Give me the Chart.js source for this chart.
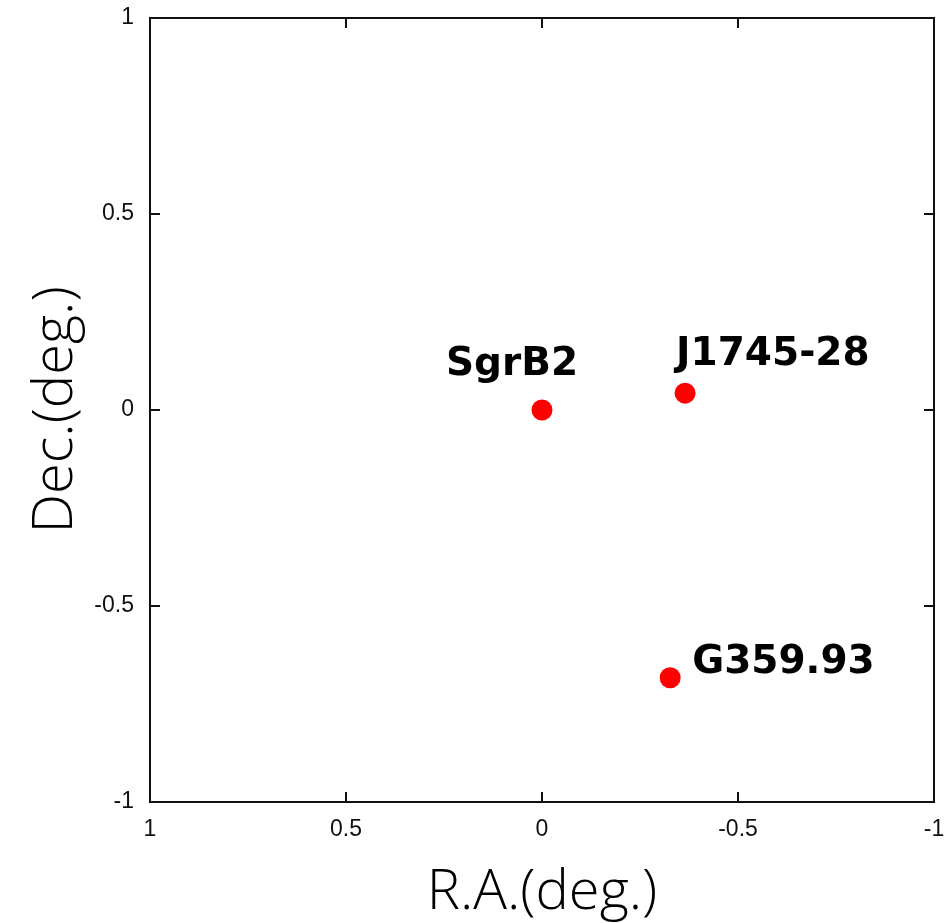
<!DOCTYPE html>
<html>
<head>
<meta charset="utf-8">
<script src="https://cdn.jsdelivr.net/npm/chart.js@4/dist/chart.umd.min.js"></script>
<style>
  body { margin: 0; background: #fff; }
  canvas { display: block; }
</style>
</head>
<body>
<canvas id="radec" width="952" height="923"></canvas>
<script>
// source positions relative to SgrB2, in degrees
const sourceNames = ['SgrB2', 'J1745-28', 'G359.93'];
const raValues = [0, -0.365, -0.327];
const decValues = [0, 0.043, -0.683];
const axisTicks = [-1, -0.5, 0, 0.5, 1];

// where each name sits relative to its dot (px): dx, dy, align
const labelPlacement = [
  { dx: -30, dy: -35, align: 'center' },
  { dx: -9, dy: -28, align: 'left' },
  { dx: 22, dy: -5, align: 'left' }
];

const INK = '#111';

// box around the plot area plus inward ticks on all four sides
const frameTicks = {
  id: 'frameTicks',
  afterDraw(chart) {
    const { ctx, chartArea: a, scales } = chart;
    const len = 10;
    ctx.save();
    ctx.strokeStyle = INK;
    ctx.lineWidth = 2;
    ctx.strokeRect(a.left, a.top, a.right - a.left, a.bottom - a.top);
    ctx.beginPath();
    axisTicks.forEach(v => {
      const px = Math.round(scales.x.getPixelForValue(v));
      const py = Math.round(scales.y.getPixelForValue(v));
      if (px > a.left + 1 && px < a.right - 1) {
        ctx.moveTo(px, a.bottom); ctx.lineTo(px, a.bottom - len);
        ctx.moveTo(px, a.top); ctx.lineTo(px, a.top + len);
      }
      if (py > a.top + 1 && py < a.bottom - 1) {
        ctx.moveTo(a.left, py); ctx.lineTo(a.left + len, py);
        ctx.moveTo(a.right, py); ctx.lineTo(a.right - len, py);
      }
    });
    ctx.stroke();
    ctx.restore();
  }
};

// source names next to the dots
const sourceLabels = {
  id: 'sourceLabels',
  afterDatasetsDraw(chart) {
    const { ctx } = chart;
    const pts = chart.getDatasetMeta(0).data;
    ctx.save();
    ctx.fillStyle = '#000';
    ctx.font = 'bold 39px "DejaVu Sans"';
    ctx.textBaseline = 'alphabetic';
    pts.forEach((p, i) => {
      const lp = labelPlacement[i];
      ctx.textAlign = lp.align;
      ctx.fillText(sourceNames[i], p.x + lp.dx, p.y + lp.dy);
    });
    ctx.restore();
  }
};

const tickFont = { family: '"Liberation Sans", Arial, sans-serif', size: 23 };
const titleFont = { family: '"Open Sans", "Noto Sans", sans-serif', size: 56, weight: 300, lineHeight: 1 };

new Chart(document.getElementById('radec'), {
  type: 'scatter',
  data: {
    datasets: [{
      data: raValues.map((ra, i) => ({ x: ra, y: decValues[i] })),
      backgroundColor: '#ff0000',
      borderColor: '#ff0000',
      borderWidth: 0,
      pointRadius: 10.5
    }]
  },
  options: {
    responsive: false,
    animation: false,
    layout: { padding: { top: 18, right: 18, left: 0, bottom: 0 } },
    plugins: { legend: { display: false }, tooltip: { enabled: false } },
    scales: {
      x: {
        type: 'linear',
        reverse: true,
        min: -1,
        max: 1,
        afterBuildTicks: s => { s.ticks = axisTicks.map(v => ({ value: v })); },
        afterFit: s => { s.height = 121; s.paddingLeft = 0; s.paddingRight = 0; },
        grid: { display: false, drawTicks: false },
        border: { display: false },
        ticks: {
          padding: 14,
          color: INK,
          font: tickFont,
          maxRotation: 0,
          callback: v => String(v)
        },
        title: { display: true, text: 'R.A.(deg.)', color: '#000', font: titleFont, padding: { top: 0, bottom: 2 } }
      },
      y: {
        type: 'linear',
        min: -1,
        max: 1,
        afterBuildTicks: s => { s.ticks = axisTicks.map(v => ({ value: v })); },
        afterFit: s => { s.width = 150; s.paddingTop = 0; s.paddingBottom = 0; },
        grid: { display: false, drawTicks: false },
        border: { display: false },
        ticks: {
          padding: 16,
          color: INK,
          font: tickFont,
          callback: v => String(v)
        },
        title: { display: true, text: 'Dec.(deg.)', color: '#000', font: titleFont, padding: { top: 28, bottom: 0 } }
      }
    }
  },
  plugins: [frameTicks, sourceLabels]
});
</script>
</body>
</html>
